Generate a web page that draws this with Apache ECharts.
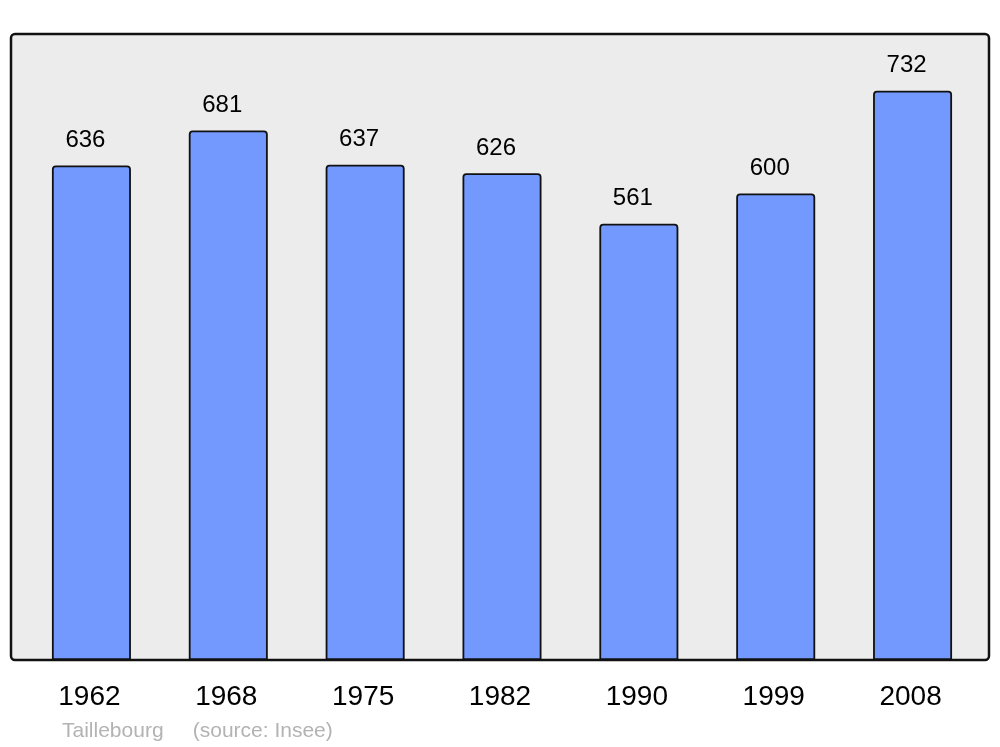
<!DOCTYPE html>
<html>
<head>
<meta charset="utf-8">
<script src="https://cdn.jsdelivr.net/npm/echarts@6/dist/echarts.min.js"></script>
<style>html,body{margin:0;padding:0;background:#fff;}#c{width:1000px;height:747px;}</style>
</head>
<body>
<div id="c"></div>
<script>
const years = ['1962', '1968', '1975', '1982', '1990', '1999', '2008'];
const population = [636, 681, 637, 626, 561, 600, 732];
const footer = 'Taillebourg     (source: Insee)';

const chart = echarts.init(document.getElementById('c'), null, {renderer: 'canvas'});
chart.setOption({
  animation: false,
  backgroundColor: '#ffffff',
  textStyle: {fontFamily: 'Liberation Sans, Arial, sans-serif'},
  graphic: [
    {type: 'rect', z: -10, shape: {x: 11, y: 34, width: 978, height: 626, r: 4},
     style: {fill: '#ececec', stroke: '#111', lineWidth: 2.5}},
    {type: 'text', left: 62, top: 721,
     style: {text: footer, fill: '#b3b3b3', font: '21px "Liberation Sans", Arial, sans-serif'}}
  ],
  grid: {left: 23, right: 19, top: 34, bottom: 87},
  xAxis: {
    type: 'category', data: years,
    axisLine: {show: false}, axisTick: {show: false},
    axisLabel: {color: '#000', fontSize: 28, margin: 23, padding: [0, 4, 0, 0], fontFamily: 'Liberation Sans'}
  },
  yAxis: {
    type: 'value', min: 0, max: 805,
    show: false, splitLine: {show: false}
  },
  series: [{
    type: 'bar', data: population, barWidth: 79,
    itemStyle: {color: '#7399ff', borderColor: '#111', borderWidth: 1.8, borderRadius: [3, 3, 0, 0]},
    label: {show: true, position: 'top', distance: 13, offset: [-6, 0],
            color: '#000', fontSize: 24, fontFamily: 'Liberation Sans'}
  }]
});
</script>
</body>
</html>
